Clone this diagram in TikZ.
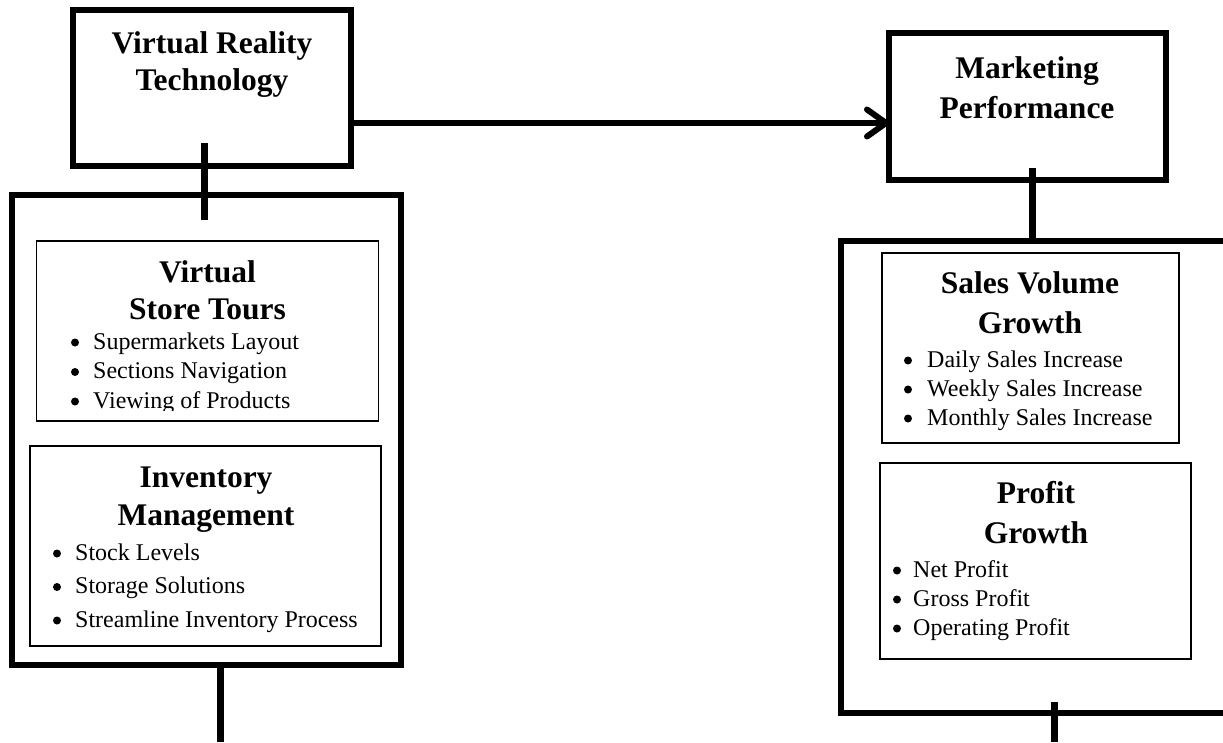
\documentclass[tikz,border=0pt]{standalone}
\usepackage{fontspec}
\setmainfont{Liberation Serif}
\usetikzlibrary{arrows.meta}
\begin{document}
\begin{tikzpicture}[x=1pt,y=-1pt,
  box/.style={draw=black, line width=6pt, inner sep=0pt, outer sep=0pt},
  sub/.style={draw=black, line width=1.5pt, inner sep=0pt, outer sep=0pt},
  ttl/.style={anchor=base, inner sep=0pt, font=\fontsize{31.5}{37}\selectfont\bfseries},
  itm/.style={anchor=base west, inner sep=0pt, font=\fontsize{24}{28}\selectfont},
  bul/.style={circle, fill=black, inner sep=0pt, minimum size=8pt, yshift=6.5pt},
  link/.style={line width=7pt},
  arr/.style={line width=6pt, -{Straight Barb[length=19pt,width=27pt,line cap=round,line join=round]}}]
\useasboundingbox (0,0) rectangle (1223,742);
\clip (0,0) rectangle (1223,742);

% top boxes
\node[box, minimum width=277.5pt, minimum height=156pt] (vrt) at (211.75,88) {};
\node[ttl] (vrt1) at (212,53) {Virtual Reality};
\node[ttl] (vrt2) at (212,90) {Technology};

\node[box, minimum width=277pt, minimum height=147pt] (mp) at (1027.5,106.5) {};
\node[ttl] (mp1) at (1027,78) {Marketing};
\node[ttl] (mp2) at (1027,118) {Performance};

% big containers
\node[box, minimum width=389pt, minimum height=470pt] (lbox) at (206,430) {};
\node[box, minimum width=419pt, minimum height=472pt] (rbox) at (1050.5,477) {};

% inner box 1
\node[sub, minimum width=342pt, minimum height=180pt] (vst) at (207.5,331) {};
\node[ttl] (vst1) at (207.5,282) {Virtual};
\node[ttl] (vst2) at (207.5,319) {Store Tours};
\node[bul] (vsb1) at (75,349) {};
\node[itm] (vsi1) at (93,349) {Supermarkets Layout};
\node[bul] (vsb2) at (75,378.5) {};
\node[itm] (vsi2) at (93,378.5) {Sections Navigation};
\begin{scope}
\clip (0,0) rectangle (1223,410);
\node[bul] (vsb3) at (75,408) {};
\node[itm] (vsi3) at (93,408) {Viewing of Products};
\end{scope}

% inner box 2
\node[sub, minimum width=351pt, minimum height=200pt] (inv) at (205.5,546) {};
\node[ttl] (inv1) at (206,487) {Inventory};
\node[ttl] (inv2) at (206,525) {Management};
\node[bul] (ivb1) at (57,560) {};
\node[itm] (ivi1) at (75,560) {Stock Levels};
\node[bul] (ivb2) at (57,593.5) {};
\node[itm] (ivi2) at (75,593.5) {Storage Solutions};
\node[bul] (ivb3) at (57,627) {};
\node[itm] (ivi3) at (75,627) {Streamline Inventory Process};

% inner box 3
\node[sub, minimum width=297pt, minimum height=190pt] (svg) at (1030.5,348) {};
\node[ttl] (svg1) at (1030,293) {Sales Volume};
\node[ttl] (svg2) at (1030,333) {Growth};
\node[bul] (svb1) at (908,367) {};
\node[itm] (svi1) at (927,367) {Daily Sales Increase};
\node[bul] (svb2) at (908,396) {};
\node[itm] (svi2) at (927,396) {Weekly Sales Increase};
\node[bul] (svb3) at (908,425) {};
\node[itm] (svi3) at (927,425) {Monthly Sales Increase};

% inner box 4
\node[sub, minimum width=311pt, minimum height=196pt] (pg) at (1035.5,561) {};
\node[ttl] (pg1) at (1036,503) {Profit};
\node[ttl] (pg2) at (1036,543) {Growth};
\node[bul] (pgb1) at (897,577) {};
\node[itm] (pgi1) at (913,577) {Net Profit};
\node[bul] (pgb2) at (897,606) {};
\node[itm] (pgi2) at (913,606) {Gross Profit};
\node[bul] (pgb3) at (897,635) {};
\node[itm] (pgi3) at (913,635) {Operating Profit};

% connectors
\coordinate (l1a) at (204.5,143);
\coordinate (l1b) at (204.5,220);
\coordinate (l2a) at (1032.5,168);
\coordinate (l2b) at (1032.5,244);
\coordinate (l3a) at (220.5,665);
\coordinate (l3b) at (220.5,742);
\coordinate (l4a) at (1054.5,702);
\coordinate (l4b) at (1054.5,742);
\coordinate (ay) at (0,123);
\draw[link] (l1a) -- (l1b);
\draw[link] (l2a) -- (l2b);
\draw[link] (l3a) -- (l3b);
\draw[link] (l4a) -- (l4b);
\draw[arr] (vrt.east |- ay) -- (mp.west |- ay);
\end{tikzpicture}
\end{document}
